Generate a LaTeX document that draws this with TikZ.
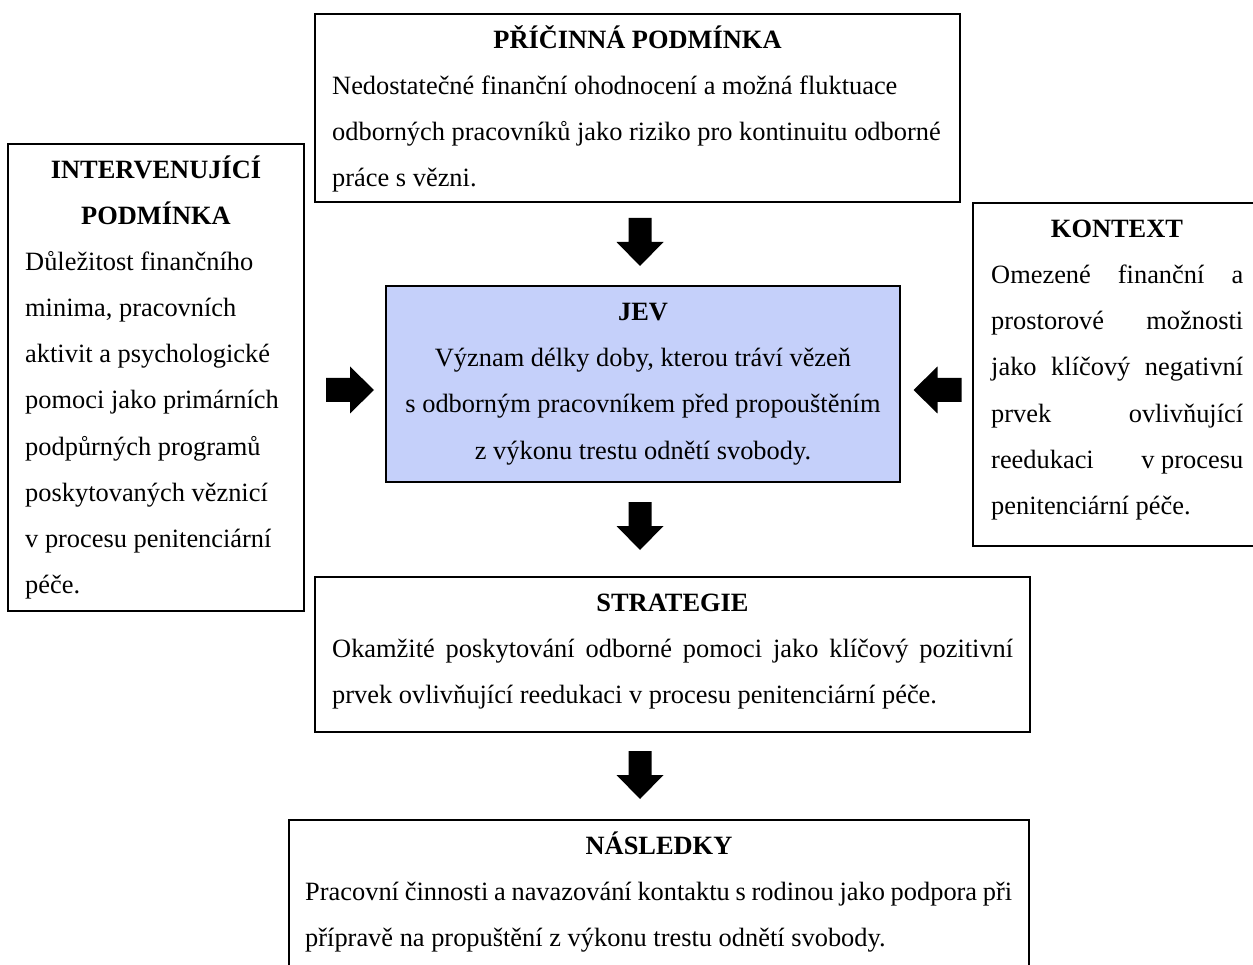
\documentclass[tikz,border=0pt]{standalone}
\usepackage{fontspec}
\setmainfont{Liberation Serif}
\usetikzlibrary{calc}
\definecolor{jevblue}{RGB}{197,208,250}
\newcommand\bodyfnt{\fontsize{26.4}{46}\selectfont}
\newcommand\titlefnt{\fontsize{26.4}{46}\selectfont\bfseries}
\begin{document}
\begin{tikzpicture}[x=1pt,y=-1pt,
  box/.style={draw=black, line width=2pt, inner sep=0pt},
  ttl/.style={font=\titlefnt, anchor=base, inner sep=0pt},
  txt/.style={font=\bodyfnt, anchor=base west, inner sep=0pt},
  ctr/.style={font=\bodyfnt, anchor=base, inner sep=0pt},
  arrdown/.pic={\fill[black] (-11.5,-24) -- (11.5,-24) -- (11.5,0) -- (23.5,0) -- (0,24) -- (-23.5,0) -- (-11.5,0) -- cycle;},
  arrright/.pic={\fill[black] (-24,-12) -- (0,-12) -- (0,-23.5) -- (24,0) -- (0,23.5) -- (0,12) -- (-24,12) -- cycle;},
  arrleft/.pic={\fill[black] (24,-12) -- (0,-12) -- (0,-23.5) -- (-24,0) -- (0,23.5) -- (0,12) -- (24,12) -- cycle;}]
\useasboundingbox (0,0) rectangle (1253,965);
\clip (0,0) rectangle (1253,965);

% boxes
\node[box, minimum width=645, minimum height=188] (P) at (637.5,108) {};
\node[box, minimum width=296, minimum height=467] (I) at (156,377.5) {};
\node[box, minimum width=288, minimum height=343] (K) at (1117,374.5) {};
\node[box, fill=jevblue, minimum width=514, minimum height=196] (J) at (643,384) {};
\node[box, minimum width=715, minimum height=155] (S) at (672.5,654.5) {};
\node[box, minimum width=740, minimum height=180] (N) at (659,910) {};

% arrows
\pic at (640,242) {arrdown};
\pic at (640,526) {arrdown};
\pic at (640,775) {arrdown};
\pic at (350,390) {arrright};
\pic at (937.5,390) {arrleft};

% PŘÍČINNÁ PODMÍNKA
\node[ttl] (p0) at (637.5,49) {PŘÍČINNÁ PODMÍNKA};
\node[txt] (p1) at (332,95) {Nedostatečné finanční ohodnocení a možná fluktuace};
\node[txt] (p2) at (332,141) {odborných pracovníků jako riziko pro kontinuitu odborné};
\node[txt] (p3) at (332,187) {práce s vězni.};

% INTERVENUJÍCÍ PODMÍNKA
\node[ttl] (i0) at (156,179) {INTERVENUJÍCÍ};
\node[ttl] (i00) at (156,225) {PODMÍNKA};
\node[txt] (i1) at (25,271) {Důležitost finančního};
\node[txt] (i2) at (25,317) {minima, pracovních};
\node[txt] (i3) at (25,363) {aktivit a psychologické};
\node[txt] (i4) at (25,409) {pomoci jako primárních};
\node[txt] (i5) at (25,455) {podpůrných programů};
\node[txt] (i6) at (25,501) {poskytovaných věznicí};
\node[txt] (i7) at (25,547) {v procesu penitenciární};
\node[txt] (i8) at (25,593) {péče.};

% JEV
\node[ttl] (j0) at (643,321) {JEV};
\node[ctr] (j1) at (643,367) {Význam délky doby, kterou tráví vězeň};
\node[ctr] (j2) at (643,413) {s odborným pracovníkem před propouštěním};
\node[ctr] (j3) at (643,459) {z výkonu trestu odnětí svobody.};

% KONTEXT
\node[ttl] (k0) at (1117,238) {KONTEXT};
\node[txt] (k1) at (991,284) {\makebox[252pt][s]{Omezené finanční a}};
\node[txt] (k2) at (991,330) {\makebox[252pt][s]{prostorové možnosti}};
\node[txt] (k3) at (991,376) {\makebox[252pt][s]{jako klíčový negativní}};
\node[txt] (k4) at (991,422) {\makebox[252pt][s]{prvek ovlivňující}};
\node[txt] (k5) at (991,468) {\makebox[252pt][s]{reedukaci\hfill v procesu}};
\node[txt] (k6) at (991,514) {penitenciární péče.};

% STRATEGIE
\node[ttl] (s0) at (672.5,611) {STRATEGIE};
\node[txt] (s1) at (332,657) {\makebox[681pt][s]{Okamžité poskytování odborné pomoci jako klíčový pozitivní}};
\node[txt] (s2) at (332,703) {prvek ovlivňující reedukaci v procesu penitenciární péče.};

% NÁSLEDKY
\node[ttl] (n0) at (659,854) {NÁSLEDKY};
\node[txt] (n1) at (305,900) {\makebox[707pt][s]{Pracovní činnosti a navazování kontaktu s rodinou jako podpora při}};
\node[txt] (n2) at (305,946) {přípravě na propuštění z výkonu trestu odnětí svobody.};
\end{tikzpicture}
\end{document}
